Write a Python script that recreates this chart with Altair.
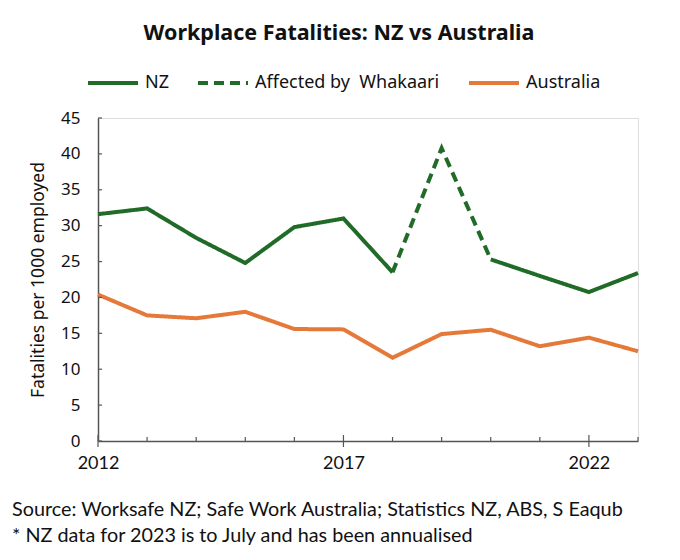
import altair as alt
import pandas as pd

years = list(range(2012, 2024))
nz = [31.6, 32.4, 28.3, 24.8, 29.8, 31.0, 23.5, 40.8, 25.3, 23.0, 20.75, 23.4]
aus = [20.4, 17.5, 17.1, 18.0, 15.6, 15.55, 11.6, 14.9, 15.5, 13.2, 14.4, 12.5]
series_names = ["NZ", "Affected by\u00a0 Whakaari", "Australia"]
colors = ["#1f6b27", "#1f6b27", "#e5793a"]
dashes = [[1, 0], [10, 6], [1, 0]]
y_ticks = [0, 5, 10, 15, 20, 25, 30, 35, 40, 45]
x_labels = [2012, 2017, 2022]
footnote = [
    "Source: Worksafe NZ; Safe Work Australia; Statistics NZ, ABS, S Eaqub",
    "* NZ data for 2023 is to July and has been annualised",
]

rows = []
for y, v in zip(years, nz):
    if y <= 2018:
        rows.append(dict(year=y, value=v, series=series_names[0], seg="nz1"))
    if 2018 <= y <= 2020:
        rows.append(dict(year=y, value=v, series=series_names[1], seg="wh"))
    if y >= 2020:
        rows.append(dict(year=y, value=v, series=series_names[0], seg="nz2"))
for y, v in zip(years, aus):
    rows.append(dict(year=y, value=v, series=series_names[2], seg="au"))
df = pd.DataFrame(rows)

W, H = 540, 323
LABEL_FONT = "Lato"
LEG_FONT = "Noto Sans"

legend = alt.Legend(
    title=None, orient="none", direction="horizontal", legendX=-12, legendY=-62,
    symbolType="stroke", symbolSize=2500, symbolStrokeWidth=4,
    labelFont=LEG_FONT, labelFontSize=18, labelColor="#111", labelLimit=400,
    columnPadding=21, labelOffset=5, padding=0,
)

xscale = alt.Scale(domain=[2012, 2023], nice=False)
yscale = alt.Scale(domain=[0, 45], nice=False)

x_axis = alt.Axis(values=x_labels, format="d", ticks=False, grid=False, title=None,
                  labelFont=LABEL_FONT, labelFontSize=18, labelColor="#111",
                  labelPadding=13, domainColor="#555", domainWidth=1.5,
                  labelFlush=False, labelOverlap=False)
y_axis = alt.Axis(values=y_ticks, ticks=False, grid=False,
                  title="Fatalities per 1000 employed",
                  titleFont=LEG_FONT, titleFontSize=17.5, titleFontWeight="normal",
                  titleColor="#111", titlePadding=13,
                  labelFont=LEG_FONT, labelFontSize=17, labelColor="#111",
                  labelPadding=18, domainColor="#555", domainWidth=1.5,
                  labelOverlap=False, labelFlush=False)

lines = alt.Chart(df).mark_line(strokeWidth=4).encode(
    x=alt.X("year:Q", scale=xscale, axis=x_axis),
    y=alt.Y("value:Q", scale=yscale, axis=y_axis),
    color=alt.Color("series:N", scale=alt.Scale(domain=series_names, range=colors), legend=legend),
    strokeDash=alt.StrokeDash("series:N", scale=alt.Scale(domain=series_names, range=dashes), legend=legend),
    detail="seg:N",
    order="year:Q",
)

minor_df = pd.DataFrame({"year": [y for y in years if y not in x_labels]})
major_df = pd.DataFrame({"year": x_labels})
ytick_df = pd.DataFrame({"v": y_ticks})

minor_ticks = alt.Chart(minor_df).mark_rule(color="#555", strokeWidth=1.2).encode(
    x=alt.X("year:Q", scale=xscale, axis=x_axis), y=alt.value(H - 4), y2=alt.value(H))
major_ticks = alt.Chart(major_df).mark_rule(color="#555", strokeWidth=1.2).encode(
    x=alt.X("year:Q", scale=xscale, axis=x_axis), y=alt.value(H - 6), y2=alt.value(H + 6))
y_tick_marks = alt.Chart(ytick_df).mark_rule(color="#555", strokeWidth=1.2).encode(
    y=alt.Y("v:Q", scale=yscale, axis=y_axis), x=alt.value(0), x2=alt.value(4))

foot1 = alt.Chart(pd.DataFrame({"line": [footnote[0]]})).mark_text(
    align="left", baseline="middle", font=LABEL_FONT, fontSize=19.8, color="#111"
).encode(text="line:N", x=alt.value(-86), y=alt.value(H + 69))
foot2 = alt.Chart(pd.DataFrame({"line": [footnote[1]]})).mark_text(
    align="left", baseline="middle", font=LABEL_FONT, fontSize=19.8, color="#111"
).encode(text="line:N", x=alt.value(-86), y=alt.value(H + 95))

chart = alt.layer(lines, minor_ticks, major_ticks, y_tick_marks, foot1, foot2).properties(
    width=W, height=H,
    title=alt.Title("Workplace Fatalities: NZ vs Australia", font=LEG_FONT, fontSize=21.5,
                    fontWeight="bold", color="#111", anchor="middle", dx=-29, offset=12,
                    frame="group"),
    autosize=alt.AutoSizeParams(type="none"),
    padding={"left": 90, "top": 110, "right": 34, "bottom": 111},
).configure_view(stroke=None).configure(background="white")

chart.save("out.html", embed_options={"renderer": "svg", "actions": False})
